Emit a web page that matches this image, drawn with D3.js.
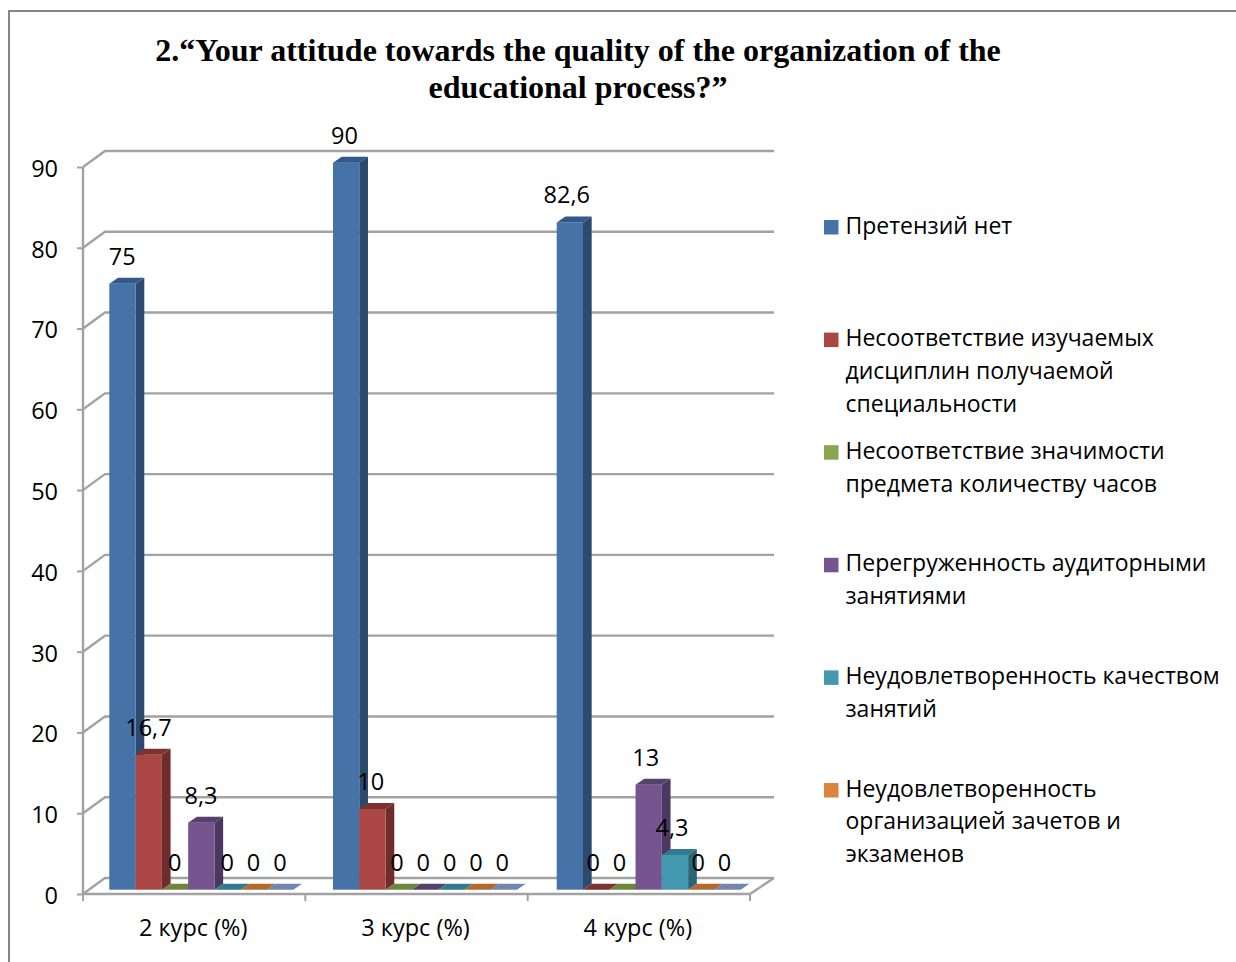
<!DOCTYPE html>
<html><head><meta charset="utf-8">
<script src="https://cdnjs.cloudflare.com/ajax/libs/d3/7.8.5/d3.min.js"></script>
<style>html,body{margin:0;background:#fff;overflow:hidden}svg{display:block}
text{font-family:"Open Sans",sans-serif;fill:#000}</style></head>
<body><svg id="c" width="1236" height="962"></svg>
<script>
const titleLines = ["2.“Your attitude towards the quality of the organization of the","educational process?”"];
const categories = ["2 курс (%)","3 курс (%)","4 курс (%)"];
const legendLines = [["Претензий нет"],["Несоответствие изучаемых","дисциплин получаемой","специальности"],["Несоответствие значимости","предмета количеству часов"],["Перегруженность аудиторными","занятиями"],["Неудовлетворенность качеством","занятий"],["Неудовлетворенность","организацией зачетов и","экзаменов"]];
const pretensiiNet = [75,90,82.6];
const nesootvDisc = [16.7,10,0];
const nesootvZnach = [0,0,0];
const peregruz = [8.3,0,13];
const neudovKach = [0,0,4.3];
const neudovOrg = [0,0,0];
const prochee = [0,0,0];
const seriesValues = [pretensiiNet,nesootvDisc,nesootvZnach,peregruz,neudovKach,neudovOrg,prochee];
const labelTexts = [["75","90","82,6"],["16,7","10","0"],["0","0","0"],["8,3","0","13"],["0","0","4,3"],["0","0","0"],["0","0","0"]];
const yTicks = d3.range(0,100,10);
const frontColors = ["#4572a7","#aa4643","#89a54e","#75548f","#4198af","#db843d","#7f93b8"];
const sideColors  = ["#2c4a70","#6f2c2a","#566a30","#4b3860","#2b6474","#8f5526","#52607a"];
const topColors   = ["#32598a","#7e3230","#6d853d","#57406c","#317b8e","#b0692f","#7086ac"];

const svg = d3.select("#c");
const grid = "#a2a2a2", D = {x:22,y:-16}, B = {x:8.7,y:-6};
svg.append("path").attr("d","M1236,11H9V962").attr("fill","none").attr("stroke","#868686").attr("stroke-width",2);

svg.append("g").selectAll("text").data(titleLines).join("text")
  .attr("x",578).attr("y",(d,i)=>61+i*37).attr("text-anchor","middle")
  .style("font-family","'Liberation Serif',serif").style("font-weight","bold").style("font-size","32px").text(d=>d);

const y = d3.scaleLinear().domain([0,90]).range([894,167]);
const yBar = d3.scaleLinear().domain([0,90]).range([889.7,162.7]);
const xAxis = d3.scaleBand().domain(categories).range([83,750]);
const xBar = d3.scaleBand().domain(categories).range([109.3,780.4]);
const xIn = d3.scaleBand().domain(d3.range(7)).range([0,184]);
const xLabel = d3.scaleBand().domain(d3.range(7)).range([0,184]);

// walls and gridlines
const walls = svg.append("g").attr("fill","none").attr("stroke",grid).attr("stroke-width",2.4);
yTicks.forEach(t=>{
  walls.append("path").attr("d",`M83,${y(t)}L${83+D.x},${y(t)+D.y}H774`);
});
walls.append("path").attr("d",`M83,${y(90)}V${y(0)}H750L774,${y(0)+D.y}`);

// y axis
const ax = svg.append("g").attr("transform","translate(83,0)").call(d3.axisLeft(y).tickValues(yTicks).tickSize(6).tickPadding(19));
ax.select(".domain").remove();
ax.selectAll("line").attr("stroke",grid).attr("stroke-width",2);
ax.selectAll("text").style("font-size","23.5px").style("font-family","'Open Sans',sans-serif").attr("fill","#000").attr("dy","0.40em");

// x axis
const bx = svg.append("g").attr("transform",`translate(0,${y(0)})`).call(d3.axisBottom(xAxis).tickSize(0).tickPadding(25));
bx.select(".domain").remove();
bx.selectAll("text").style("font-size","23.5px").style("font-family","'Open Sans',sans-serif").attr("fill","#000").attr("dx","-1");
svg.append("g").selectAll("line").data([83,305.3,527.7,750]).join("line")
  .attr("x1",d=>d).attr("x2",d=>d).attr("y1",y(0)).attr("y2",y(0)+7).attr("stroke",grid).attr("stroke-width",2);

// bars
const bars = svg.append("g");
categories.forEach((c,ci)=>{
  seriesValues.forEach((vals,si)=>{
    const v = vals[ci], x0 = xBar(c)+xIn(si), w = xIn.bandwidth(), yt = yBar(v), yb = yBar(0);
    const g = bars.append("g");
    if(v>0){
      g.append("path").attr("d",`M${x0+w},${yt}l${B.x},${B.y}V${yb+B.y}L${x0+w},${yb}Z`).attr("fill",sideColors[si]);
      g.append("rect").attr("x",x0).attr("y",yt).attr("width",w).attr("height",yb-yt).attr("fill",frontColors[si]);
    }
    g.append("path").attr("d",`M${x0},${yt}l${B.x},${B.y}h${w}l${-B.x},${-B.y}Z`).attr("fill",topColors[si]);
  });
});

// data labels
const labels = svg.append("g").style("font-size","23.5px").attr("text-anchor","middle");
categories.forEach((c,ci)=>{
  seriesValues.forEach((vals,si)=>{
    const txt = labelTexts[si][ci]; if(!txt) return;
    labels.append("text").attr("x",xAxis(c)+26+xLabel(si)+xLabel.bandwidth()/2)
      .attr("y",yBar(vals[ci])-19).text(txt);
  });
});

// legend
const lg = svg.append("g");
legendLines.forEach((lines,i)=>{
  const cy = 227+i*112.6;
  lg.append("rect").attr("x",824).attr("y",cy-7).attr("width",14.5).attr("height",14.5).attr("fill",frontColors[i]);
  lines.forEach((l,k)=>lg.append("text").attr("x",845.5).attr("y",cy+6.5+k*32.8).style("font-size","23px").text(l));
});
</script></body></html>
